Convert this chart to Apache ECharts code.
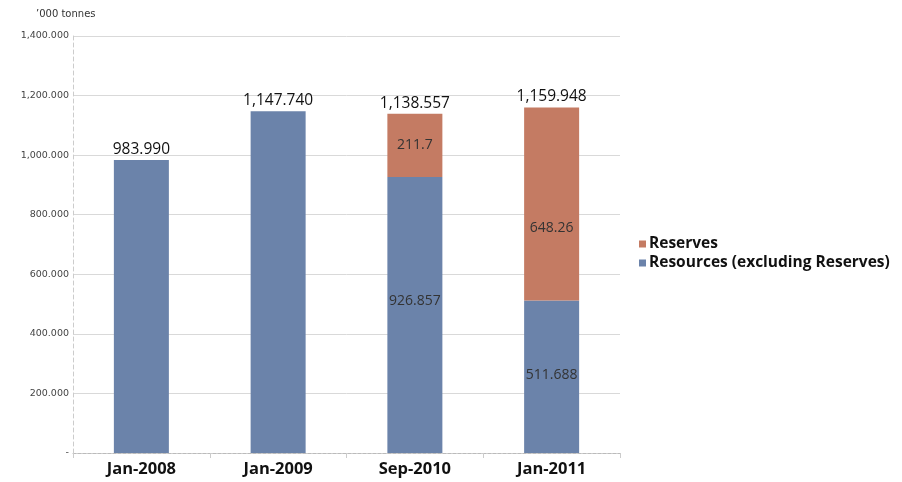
<!DOCTYPE html>
<html>
<head>
<meta charset="utf-8">
<script src="https://cdn.jsdelivr.net/npm/echarts@6/dist/echarts.min.js"></script>
<style>
  html, body { margin: 0; padding: 0; background: #fff; }
  #chart { width: 902px; height: 482px; }
</style>
</head>
<body>
<div id="chart"></div>
<script>
// Reserve and resource estimates, '000 tonnes
const categories = ['Jan-2008', 'Jan-2009', 'Sep-2010', 'Jan-2011'];
const resources = [983.990, 1147.740, 926.857, 511.688];
const reserves = [null, null, 211.7, 648.26];
const totals = [983.990, 1147.740, 1138.557, 1159.948];
const segmentLabelled = [false, false, true, true];
const yTicks = [0, 200, 400, 600, 800, 1000, 1200, 1400];

const fmt3 = v => v.toLocaleString('en-US', { minimumFractionDigits: 3, maximumFractionDigits: 3 });

const BLUE = '#6b83aa';
const RED = '#c47b63';

const chart = echarts.init(document.getElementById('chart'), null, { renderer: 'canvas' });

chart.setOption({
  animation: false,
  backgroundColor: '#fff',
  grid: { left: 73, right: 282, top: 36, bottom: 29, containLabel: false },
  graphic: [{
    type: 'text', left: 36, top: 9,
    style: { text: '\u2019000 tonnes', font: '10px "DejaVu Sans"', fill: '#333' }
  }],
  legend: {
    orient: 'vertical', left: 634, top: 231,
    itemWidth: 7, itemHeight: 7, itemGap: 3,
    icon: 'rect',
    data: ['Reserves', 'Resources (excluding Reserves)'],
    textStyle: { fontFamily: 'Open Sans', fontWeight: 'bold', fontSize: 15.5, color: '#111', padding: [0, 0, 0, -2] }
  },
  xAxis: {
    type: 'category',
    data: categories,
    boundaryGap: true,
    axisLine: { show: true, lineStyle: { color: '#bbb', type: [3, 2] } },
    axisTick: { show: true, length: 5, lineStyle: { color: '#ccc' } },
    axisLabel: { fontFamily: 'Open Sans', fontWeight: 'bold', fontSize: 16.5, color: '#111', margin: 8 }
  },
  yAxis: {
    type: 'value',
    min: 0, max: 1400, interval: 200,
    axisLine: { show: true, lineStyle: { color: '#ccc', type: [4, 3] } },
    axisTick: { show: false },
    splitLine: { show: true, lineStyle: { color: '#d9d9d9', width: 1 } },
    axisLabel: {
      fontFamily: 'DejaVu Sans', fontSize: 9.5, color: '#444', margin: 4,
      formatter: v => (yTicks.indexOf(v) === 0 ? '-' : fmt3(v))
    }
  },
  series: [
    {
      name: 'Resources (excluding Reserves)',
      type: 'bar', stack: 'total', barWidth: 55,
      itemStyle: { color: BLUE },
      data: resources.map((v, i) => ({
        value: v,
        label: {
          show: segmentLabelled[i], position: 'inside',
          offset: i === 2 ? [0, -14] : [0, -2],
          formatter: () => String(v),
          fontFamily: 'Open Sans', fontSize: 14, color: '#333'
        }
      }))
    },
    {
      name: 'Reserves',
      type: 'bar', stack: 'total', barWidth: 55,
      itemStyle: { color: RED },
      data: reserves.map((v, i) => ({
        value: v,
        label: {
          show: v !== null, position: 'inside',
          offset: i === 3 ? [0, 24] : [0, 0],
          formatter: () => String(v),
          fontFamily: 'Open Sans', fontSize: 14, color: '#333'
        }
      }))
    },
    {
      name: 'Total',
      type: 'line',
      data: totals,
      symbol: 'circle', symbolSize: 1,
      itemStyle: { color: 'rgba(0,0,0,0)' },
      lineStyle: { opacity: 0 },
      tooltip: { show: false },
      label: {
        show: true, position: 'top', distance: 2,
        formatter: p => fmt3(p.value),
        fontFamily: 'Open Sans', fontSize: 15.5, color: '#111'
      },
      z: 5
    }
  ]
});
</script>
</body>
</html>
